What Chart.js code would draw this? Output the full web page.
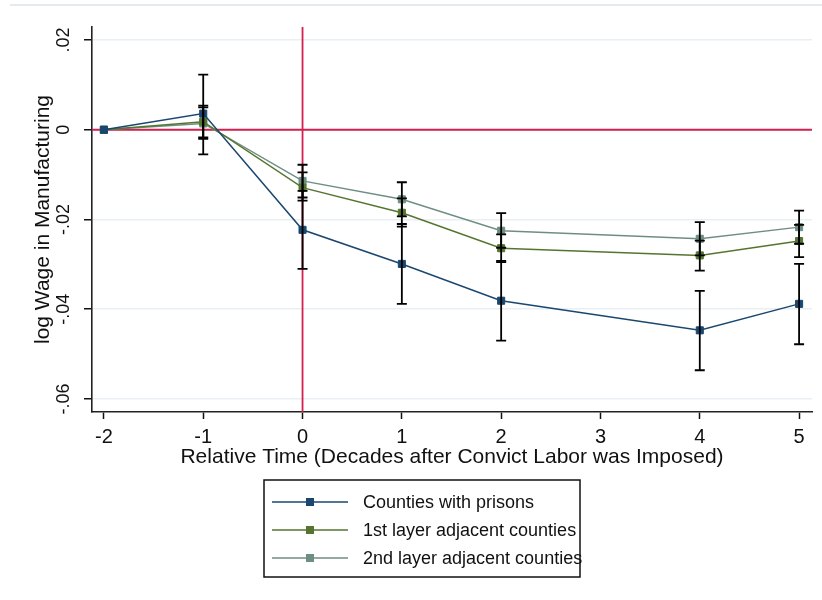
<!DOCTYPE html>
<html>
<head>
<meta charset="utf-8">
<script src="https://cdn.jsdelivr.net/npm/chart.js@4.4.1/dist/chart.umd.min.js"></script>
<style>
  html, body { margin: 0; padding: 0; background: #fff; }
  canvas { display: block; }
</style>
</head>
<body>
<canvas id="chart" width="822" height="600"></canvas>
<script>
// Relative time, in decades after convict labor was imposed
const periods = [-2, -1, 0, 1, 2, 4, 5];

// Point estimates and 95% confidence bounds, log wage in manufacturing
const prisonEst = [0, 0.0036, -0.0223, -0.0299, -0.0381, -0.0447, -0.0388];
const prisonLo  = [null, -0.0055, -0.0310, -0.0388, -0.0470, -0.0536, -0.0478];
const prisonHi  = [null, 0.0123, -0.0136, -0.0210, -0.0292, -0.0359, -0.0299];

const layer1Est = [0, 0.0018, -0.0129, -0.0185, -0.0264, -0.0280, -0.0248];
const layer1Lo  = [null, -0.0017, -0.0158, -0.0216, -0.0295, -0.0314, -0.0284];
const layer1Hi  = [null, 0.0054, -0.0095, -0.0153, -0.0233, -0.0247, -0.0212];

const layer2Est = [0, 0.0014, -0.0114, -0.0155, -0.0225, -0.0243, -0.0217];
const layer2Lo  = [null, -0.0020, -0.0151, -0.0193, -0.0263, -0.0280, -0.0254];
const layer2Hi  = [null, 0.0050, -0.0078, -0.0117, -0.0186, -0.0206, -0.0180];

const seriesNames = ['Counties with prisons', '1st layer adjacent counties', '2nd layer adjacent counties'];

const xTicks = [-2, -1, 0, 1, 2, 3, 4, 5];
const yTicks = [-0.06, -0.04, -0.02, 0, 0.02];
const yTickLabels = ['-.06', '-.04', '-.02', '0', '.02'];

const FONT = '"Liberation Sans", Arial, sans-serif';
const colors = ['#1a476f', '#55752f', '#6e8e84'];
const bounds = [[prisonLo, prisonHi], [layer1Lo, layer1Hi], [layer2Lo, layer2Hi]];

function pts(values) {
  return periods.map((p, i) => ({ x: p, y: values[i] }));
}

function series(i, values) {
  return {
    label: seriesNames[i],
    data: pts(values),
    borderColor: colors[i],
    backgroundColor: colors[i],
    borderWidth: 1.5,
    pointStyle: 'rect',
    pointRadius: 5,
    pointBorderWidth: 1,
    pointBorderColor: colors[i],
    pointBackgroundColor: colors[i],
    showLine: true,
    tension: 0
  };
}

// Faint frame rule along the top of the graph region
const frameRule = {
  id: 'frameRule',
  beforeDraw(chart) {
    const ctx = chart.ctx;
    ctx.save();
    ctx.strokeStyle = '#e3ebee';
    ctx.lineWidth = 2;
    ctx.beginPath();
    ctx.moveTo(10, 5);
    ctx.lineTo(chart.width, 5);
    ctx.stroke();
    ctx.restore();
  }
};

// Reference lines at zero on both axes
const zeroLines = {
  id: 'zeroLines',
  beforeDatasetsDraw(chart) {
    const { ctx, chartArea, scales } = chart;
    const x0 = scales.x.getPixelForValue(0);
    const y0 = scales.y.getPixelForValue(0);
    ctx.save();
    ctx.strokeStyle = '#d4204f';
    ctx.lineWidth = 1.8;
    ctx.beginPath();
    ctx.moveTo(chartArea.left, y0);
    ctx.lineTo(chartArea.right, y0);
    ctx.moveTo(x0, chartArea.top);
    ctx.lineTo(x0, chartArea.bottom);
    ctx.stroke();
    ctx.restore();
  }
};

// Confidence interval whiskers with caps
const errorBars = {
  id: 'errorBars',
  afterDatasetsDraw(chart) {
    const { ctx, scales } = chart;
    ctx.save();
    ctx.strokeStyle = '#000';
    ctx.lineWidth = 1.8;
    const cap = 5;
    bounds.forEach(([lo, hi]) => {
      periods.forEach((p, i) => {
        if (lo[i] === null || hi[i] === null) return;
        const x = scales.x.getPixelForValue(p);
        const yl = scales.y.getPixelForValue(lo[i]);
        const yh = scales.y.getPixelForValue(hi[i]);
        ctx.beginPath();
        ctx.moveTo(x, yl); ctx.lineTo(x, yh);
        ctx.moveTo(x - cap, yl); ctx.lineTo(x + cap, yl);
        ctx.moveTo(x - cap, yh); ctx.lineTo(x + cap, yh);
        ctx.stroke();
      });
    });
    ctx.restore();
  }
};

// Boxed legend below the plot
const boxLegend = {
  id: 'boxLegend',
  afterDraw(chart) {
    const ctx = chart.ctx;
    const box = { left: 264, top: 480, right: 580, bottom: 577 };
    ctx.save();
    ctx.strokeStyle = '#111';
    ctx.lineWidth = 1.5;
    ctx.strokeRect(box.left, box.top, box.right - box.left, box.bottom - box.top);
    ctx.font = '18px ' + FONT;
    ctx.textBaseline = 'middle';
    ctx.textAlign = 'left';
    chart.data.datasets.forEach((ds, i) => {
      const y = 502 + i * 28;
      ctx.strokeStyle = ds.borderColor;
      ctx.lineWidth = 1.5;
      ctx.beginPath();
      ctx.moveTo(272, y);
      ctx.lineTo(348, y);
      ctx.stroke();
      ctx.fillStyle = ds.borderColor;
      ctx.fillRect(306, y - 4, 8, 8);
      ctx.fillStyle = '#111';
      ctx.fillText(ds.label, 363, y + 1);
    });
    ctx.restore();
  }
};

new Chart(document.getElementById('chart'), {
  type: 'line',
  data: {
    datasets: [
      series(0, prisonEst),
      series(1, layer1Est),
      series(2, layer2Est)
    ]
  },
  options: {
    responsive: false,
    animation: false,
    events: [],
    layout: { padding: { top: 27, right: 10, bottom: 130, left: 0 } },
    plugins: {
      legend: { display: false },
      tooltip: { enabled: false }
    },
    scales: {
      x: {
        type: 'linear',
        min: -2.12,
        max: 5.13,
        afterBuildTicks(scale) { scale.ticks = xTicks.map(v => ({ value: v })); },
        afterFit(scale) { scale.height = 58; },
        grid: {
          drawOnChartArea: false,
          drawTicks: true,
          tickLength: 7,
          tickColor: '#111',
          tickWidth: 1.5
        },
        border: { display: true, color: '#222', width: 1.6 },
        ticks: {
          color: '#111',
          padding: 6,
          maxRotation: 0,
          font: { family: FONT, size: 20 },
          callback: v => String(v)
        },
        title: {
          display: true,
          text: 'Relative Time (Decades after Convict Labor was Imposed)',
          color: '#111',
          font: { family: FONT, size: 21 },
          padding: { top: 0, bottom: 0 }
        }
      },
      y: {
        type: 'linear',
        min: -0.0629,
        max: 0.0229,
        afterBuildTicks(scale) { scale.ticks = yTicks.map(v => ({ value: v })); },
        afterFit(scale) { scale.width = 92; },
        grid: {
          color: '#e9eff3',
          lineWidth: 1.5,
          drawTicks: true,
          tickLength: 8,
          tickColor: '#111',
          tickWidth: 1.5
        },
        border: { display: true, color: '#222', width: 1.6 },
        ticks: {
          color: '#111',
          padding: 4,
          minRotation: 90,
          maxRotation: 90,
          crossAlign: 'center',
          font: { family: FONT, size: 18 },
          callback: v => {
            const k = yTicks.findIndex(t => Math.abs(t - v) < 1e-9);
            return k >= 0 ? yTickLabels[k] : '';
          }
        },
        title: {
          display: true,
          text: 'log Wage in Manufacturing',
          color: '#111',
          font: { family: FONT, size: 21 },
          padding: { top: 31, bottom: 0 }
        }
      }
    }
  },
  plugins: [frameRule, zeroLines, errorBars, boxLegend]
});
</script>
</body>
</html>
